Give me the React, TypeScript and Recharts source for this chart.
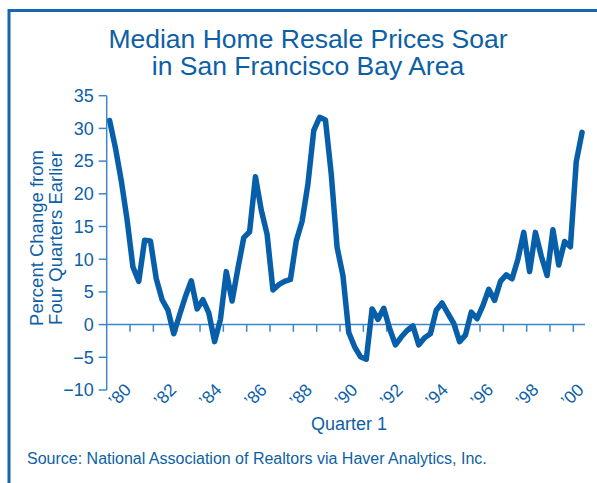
import React from 'react';
import { LineChart, Line, XAxis, YAxis, ReferenceLine } from 'recharts';

// percent change from four quarters earlier, 1980 Q1 .. 2000 Q2
const pctChange = [
  31.2, 27, 22, 16, 8.8, 6.6, 12.9, 12.8, 7.0, 3.8,
  2.2, -1.4, 1.5, 4.3, 6.7, 2.4, 3.8, 1.8, -2.6, 0.8,
  8.1, 3.6, 8.6, 13.3, 14.2, 22.6, 17.5, 13.8, 5.3, 6.1,
  6.6, 6.9, 12.8, 15.8, 21.5, 29.7, 31.7, 31.3, 23, 11.8,
  7.5, -1.2, -3.4, -4.9, -5.3, 2.4, 0.8, 2.5, -0.6, -3.1,
  -1.9, -0.9, -0.2, -3.1, -2.0, -1.4, 2.2, 3.3, 1.7, 0.2,
  -2.6, -1.6, 1.9, 0.9, 2.9, 5.4, 3.7, 6.6, 7.6, 7.0,
  10, 14.1, 8.1, 14.1, 10.5, 7.5, 14.5, 9.1, 12.7, 11.9,
  24.9, 29.4,
];
const yearLabels = ['’80', '’82', '’84', '’86', '’88', '’90', '’92', '’94', '’96', '’98', '’00'];
const yTicks = [-10, -5, 0, 5, 10, 15, 20, 25, 30, 35];

const data = pctChange.map((v, i) => ({ q: i + 0.5, v }));
const labelTicks = yearLabels.map((_, k) => k * 8);
const yearTicks = Array.from({ length: 20 }, (_, k) => (k + 1) * 4);

const FONT = '"Liberation Sans", Arial, Helvetica, sans-serif';
const TEXT = '#0d5fa6';
const AXIS = '#3d87c8';
const LINE = '#075fa9';

const fmtY = (v: number) => (v < 0 ? '\u2212' + Math.abs(v) : String(v));

const YearTick = (props: any) => {
  const { x, y, payload } = props;
  const k = payload.value / 8;
  const cx = x + 13 - 1.4 * k;
  const cy = y + 5;
  return (
    <text
      x={cx}
      y={cy}
      textAnchor="middle"
      dominantBaseline="central"
      transform={`rotate(-45 ${cx} ${cy})`}
      fontSize={17.5}
      fontFamily={FONT}
      fill={TEXT}
    >
      {yearLabels[k]}
    </text>
  );
};

export default function App() {
  return (
    <div style={{ position: 'absolute', left: 0, top: 0, width: 597, height: 483, background: '#fff' }}>
      <LineChart
        width={597}
        height={483}
        data={data}
        margin={{ top: 95.7, right: 12, bottom: 63, left: 46.7 }}
      >
        <XAxis
          dataKey="q"
          type="number"
          domain={[0, 82]}
          ticks={labelTicks}
          tick={<YearTick />}
          axisLine={false}
          tickLine={false}
          tickSize={0}
          tickMargin={0}
          height={30}
          interval={0}
        />
        <YAxis
          domain={[-10, 35]}
          ticks={yTicks}
          width={60}
          interval={0}
          tickFormatter={fmtY}
          tickSize={8}
          tickMargin={5}
          axisLine={{ stroke: AXIS, strokeWidth: 1.5 }}
          tickLine={{ stroke: AXIS, strokeWidth: 1.5 }}
          tick={{ fill: TEXT, fontSize: 18, fontFamily: FONT }}
        />
        <ReferenceLine y={0} stroke={AXIS} strokeWidth={1.5} />
        {yearTicks.map((q) => (
          <ReferenceLine
            key={q}
            segment={[{ x: q, y: 0 }, { x: q, y: -1.1 }]}
            stroke={AXIS}
            strokeWidth={1.5}
          />
        ))}
        <Line
          type="linear"
          dataKey="v"
          stroke={LINE}
          strokeWidth={5.5}
          strokeLinejoin="round"
          strokeLinecap="round"
          dot={false}
          activeDot={false}
          isAnimationActive={false}
        />
      </LineChart>
      <svg
        width={597}
        height={483}
        style={{ position: 'absolute', left: 0, top: 0, pointerEvents: 'none' }}
        fontFamily={FONT}
      >
        <line x1={9} y1={10.5} x2={597} y2={10.5} stroke="#1767b0" strokeWidth={3} />
        <line x1={9} y1={9} x2={9} y2={483} stroke="#1767b0" strokeWidth={3} />
        <text x={308} y={48} textAnchor="middle" fontSize={26.5} fill={TEXT}>
          Median Home Resale Prices Soar
        </text>
        <text x={308} y={75} textAnchor="middle" fontSize={26.5} fill={TEXT}>
          in San Francisco Bay Area
        </text>
        <text x={42.5} y={238} textAnchor="middle" fontSize={18.5} fill={TEXT} transform="rotate(-90 42.5 238)">
          Percent Change from
        </text>
        <text x={61.5} y={238} textAnchor="middle" fontSize={18.5} fill={TEXT} transform="rotate(-90 61.5 238)">
          Four Quarters Earlier
        </text>
        <text x={349} y={430} textAnchor="middle" fontSize={18} fill={TEXT}>
          Quarter 1
        </text>
        <text x={27} y={464} fontSize={16} fill={TEXT}>
          Source: National Association of Realtors via Haver Analytics, Inc.
        </text>
      </svg>
    </div>
  );
}
